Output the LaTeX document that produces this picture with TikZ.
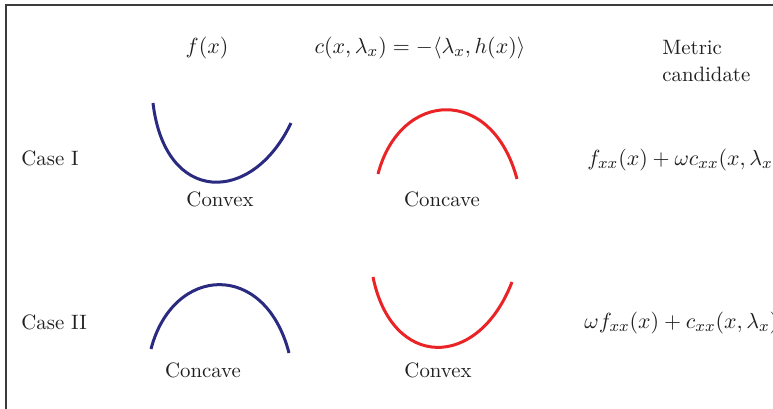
\documentclass[tikz,border=0pt]{standalone}
\definecolor{curveblue}{RGB}{42,43,128}
\definecolor{curvered}{RGB}{234,36,38}
\definecolor{framegray}{RGB}{60,60,60}
\begin{document}
\begin{tikzpicture}[x=0.5pt,y=-0.5pt,
  lbl/.style={inner sep=0pt,text=black!88,font=\fontsize{10.4}{13.5}\selectfont},
  mathlbl/.style={lbl,font=\fontsize{11}{13.5}\selectfont},
  bluecurve/.style={curveblue,line width=1.5pt},
  redcurve/.style={curvered,line width=1.5pt}]
\useasboundingbox (0,0) rectangle (773,408);
\clip (0,0) rectangle (773,408);
\draw[framegray,line width=0.7pt] (6,5) rectangle (820,440);

% column heads
\node[mathlbl,anchor=base] (fx) at (207,53) {$f(x)$};
\node[mathlbl,anchor=base] (cfun) at (420,53) {$c(x,\lambda_x) = -\langle \lambda_x, h(x)\rangle$};
\node[lbl,anchor=north west,align=left] (metric) at (662,40) {Metric\\candidate};

% Case I
\node[lbl,anchor=base west] (caseone) at (21,165) {Case I};
\draw[bluecurve] (153,103) .. controls (165,205) and (252,205) .. (291,123);
\node[lbl,anchor=base] (convexone) at (220,206) {Convex};
\draw[redcurve] (378,174) .. controls (400,90) and (492,85) .. (517,179);
\node[lbl,anchor=base] (concaveone) at (442,206) {Concave};
\node[mathlbl,anchor=base west,font=\fontsize{10.8}{13.5}\selectfont] (metricone) at (587,165) {$f_{xx}(x) + \omega c_{xx}(x,\lambda_x)$};

% Case II
\node[lbl,anchor=base west] (casetwo) at (21,329) {Case II};
\draw[bluecurve] (151,349) .. controls (173,265) and (265,260) .. (289,353);
\node[lbl,anchor=base] (concavetwo) at (203,377) {Concave};
\draw[redcurve] (373,277) .. controls (392,370) and (478,370) .. (512,282);
\node[lbl,anchor=base] (convextwo) at (438,377) {Convex};
\node[mathlbl,anchor=base west,font=\fontsize{10.8}{13.5}\selectfont] (metrictwo) at (584,328) {$\omega f_{xx}(x) + c_{xx}(x,\lambda_x)$};
\end{tikzpicture}
\end{document}
